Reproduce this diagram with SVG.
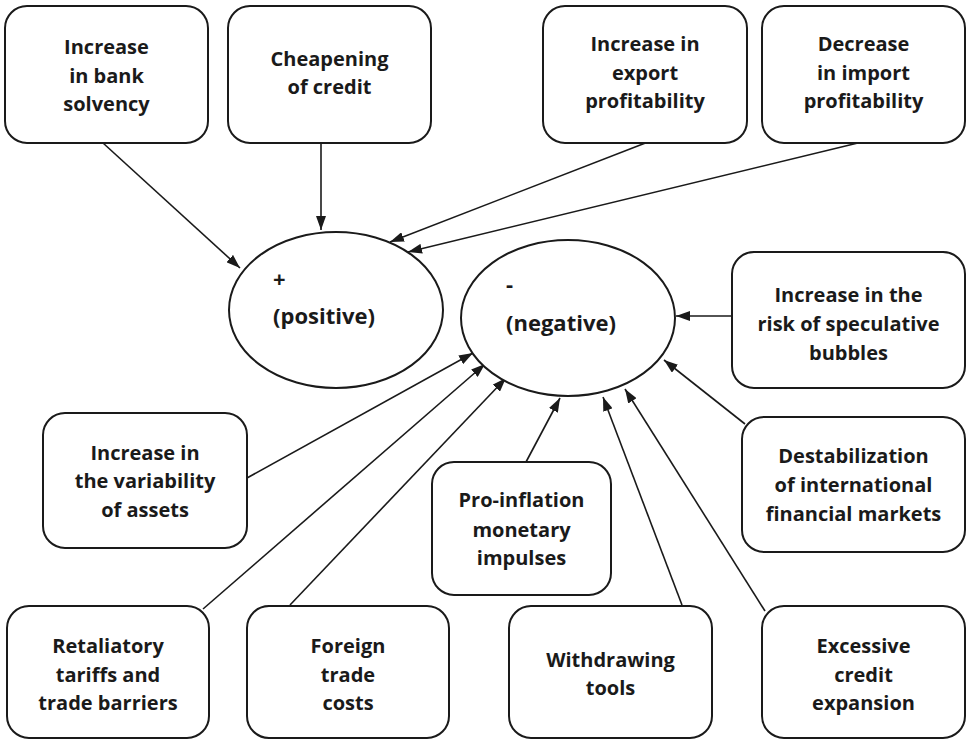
<svg xmlns="http://www.w3.org/2000/svg" width="967" height="740" viewBox="0 0 967 740">
<style>
.box{fill:#fff;stroke:#1a1a1a;stroke-width:2}
.ell{fill:#fff;stroke:#1a1a1a;stroke-width:2}
.t{font-family:"Open Sans",Lato,"Liberation Sans",sans-serif;font-weight:bold;font-size:20px;fill:#1a1a1a;text-anchor:middle}
.tl{font-family:"Open Sans",Lato,"Liberation Sans",sans-serif;font-weight:bold;font-size:22px;fill:#1a1a1a}
.c{stroke:#1a1a1a;stroke-width:1.6;fill:none;marker-end:url(#ah)}
</style>
<defs>
<marker id="ah" viewBox="0 0 14 10" refX="14" refY="5" markerWidth="14" markerHeight="10" markerUnits="userSpaceOnUse" orient="auto">
<path d="M0,0 L14,5 L0,10 z" fill="#1a1a1a"/>
</marker>
</defs>
<rect width="967" height="740" fill="#fff"/>
<g id="connectors">
<line class="c" x1="103" y1="143" x2="240" y2="268"/>
<line class="c" x1="321" y1="143" x2="321" y2="230"/>
<line class="c" x1="648" y1="142" x2="390" y2="242"/>
<line class="c" x1="862" y1="142" x2="408" y2="252"/>
<line class="c" x1="732" y1="316" x2="676" y2="316"/>
<line class="c" x1="247" y1="478" x2="473" y2="353"/>
<line class="c" x1="203" y1="609" x2="485" y2="364"/>
<line class="c" x1="290" y1="605" x2="506" y2="378"/>
<line class="c" x1="526" y1="462" x2="560" y2="398"/>
<line class="c" x1="682" y1="605" x2="603" y2="397"/>
<line class="c" x1="765" y1="611" x2="625" y2="389"/>
<line class="c" x1="745" y1="424" x2="664" y2="360"/>
</g>
<g id="positive">
<ellipse class="ell" cx="336" cy="310" rx="107" ry="78"/>
<text class="tl" x="273" y="287">+</text>
<text class="tl" x="273" y="324">(positive)</text>
</g>
<g id="negative">
<ellipse class="ell" cx="568" cy="318" rx="107" ry="78"/>
<text class="tl" x="506" y="292">-</text>
<text class="tl" x="506" y="331">(negative)</text>
</g>
<g id="bank-solvency">
<rect class="box" x="5" y="6" width="203" height="137" rx="22"/>
<text class="t" x="106.5" y="54">Increase</text>
<text class="t" x="106.5" y="83">in bank</text>
<text class="t" x="106.5" y="111">solvency</text>
</g>
<g id="cheapening">
<rect class="box" x="228" y="6" width="203" height="137" rx="22"/>
<text class="t" x="329.5" y="66">Cheapening</text>
<text class="t" x="329.5" y="94">of credit</text>
</g>
<g id="export">
<rect class="box" x="543" y="6" width="204" height="137" rx="22"/>
<text class="t" x="645" y="51">Increase in</text>
<text class="t" x="645" y="80">export</text>
<text class="t" x="645" y="108">profitability</text>
</g>
<g id="import">
<rect class="box" x="762" y="6" width="203" height="137" rx="22"/>
<text class="t" x="863.5" y="51">Decrease</text>
<text class="t" x="863.5" y="80">in import</text>
<text class="t" x="863.5" y="108">profitability</text>
</g>
<g id="bubbles">
<rect class="box" x="732" y="252" width="233" height="136" rx="22"/>
<text class="t" x="848.5" y="302">Increase in the</text>
<text class="t" x="848.5" y="331">risk of speculative</text>
<text class="t" x="848.5" y="360">bubbles</text>
</g>
<g id="variability">
<rect class="box" x="43" y="413" width="204" height="135" rx="22"/>
<text class="t" x="145" y="460">Increase in</text>
<text class="t" x="145" y="488">the variability</text>
<text class="t" x="145" y="517">of assets</text>
</g>
<g id="pro-inflation">
<rect class="box" x="432" y="462" width="179" height="133" rx="22"/>
<text class="t" x="521.5" y="507">Pro-inflation</text>
<text class="t" x="521.5" y="537">monetary</text>
<text class="t" x="521.5" y="565">impulses</text>
</g>
<g id="destabilization">
<rect class="box" x="742" y="417" width="223" height="135" rx="22"/>
<text class="t" x="853.5" y="463">Destabilization</text>
<text class="t" x="853.5" y="492">of international</text>
<text class="t" x="853.5" y="521">financial markets</text>
</g>
<g id="retaliatory">
<rect class="box" x="7" y="606" width="202" height="132" rx="22"/>
<text class="t" x="108" y="653">Retaliatory</text>
<text class="t" x="108" y="682">tariffs and</text>
<text class="t" x="108" y="710">trade barriers</text>
</g>
<g id="foreign-trade">
<rect class="box" x="247" y="606" width="202" height="132" rx="22"/>
<text class="t" x="348" y="653">Foreign</text>
<text class="t" x="348" y="682">trade</text>
<text class="t" x="348" y="710">costs</text>
</g>
<g id="withdrawing">
<rect class="box" x="509" y="606" width="203" height="132" rx="22"/>
<text class="t" x="610.5" y="667">Withdrawing</text>
<text class="t" x="610.5" y="695">tools</text>
</g>
<g id="excessive">
<rect class="box" x="762" y="606" width="203" height="132" rx="22"/>
<text class="t" x="863.5" y="653">Excessive</text>
<text class="t" x="863.5" y="682">credit</text>
<text class="t" x="863.5" y="710">expansion</text>
</g>
</svg>
